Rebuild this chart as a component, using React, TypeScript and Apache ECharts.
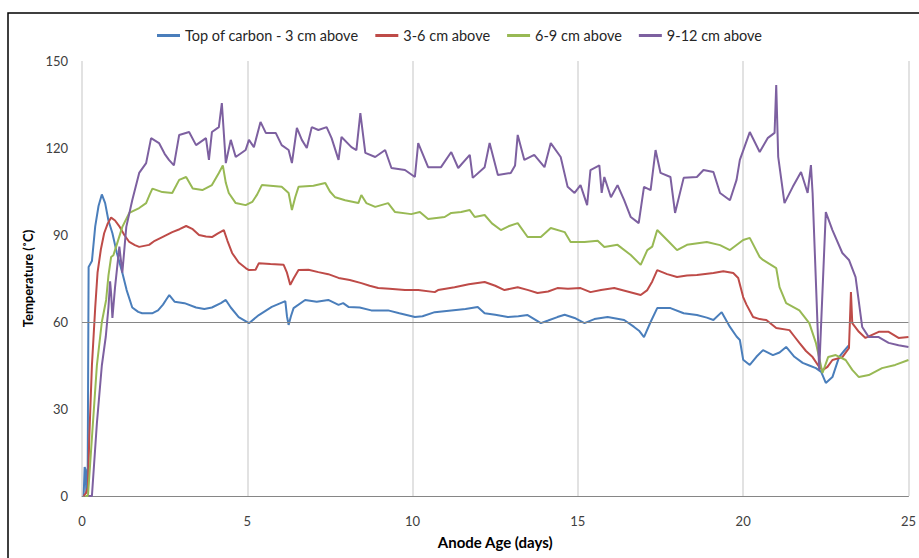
import React, { useEffect, useRef } from "react";
import * as echarts from "echarts";

const seriesNames = ["Top of carbon - 3 cm above", "3-6 cm above", "6-9 cm above", "9-12 cm above"];
const colors = ["#4a7ebb", "#be4b48", "#98b954", "#7d60a0"];
const xTicks = [0, 5, 10, 15, 20, 25];
const yTicks = [0, 30, 60, 90, 120, 150];
const refLine = 60;

const topCarbon: number[][] = [
  [0.05,0],[0.08,10],[0.11,9],[0.13,1],[0.17,2],[0.2,79],[0.3,81],[0.4,93],[0.5,100],[0.6,104],[0.7,101],[0.8,95],[0.92,90.6],[1.05,84],[1.22,77],[1.35,71],[1.52,65],[1.7,63.5],[1.82,63],[2.12,63],[2.3,64],[2.45,66],[2.54,67.6],[2.64,69.3],[2.8,67],[3.1,66.5],[3.45,65],[3.7,64.5],[3.93,65],[4.2,66.5],[4.35,67.6],[4.5,65],[4.74,61.7],[5.05,59.6],[5.35,62.4],[5.74,65.2],[6.15,67.2],[6.2,62],[6.25,59],[6.32,62],[6.4,64.8],[6.75,67.6],[7.1,67],[7.45,67.6],[7.76,65.9],[7.9,66.5],[8.06,65.2],[8.4,65],[8.75,64],[9.26,64],[9.6,63],[10.07,61.7],[10.3,62],[10.67,63.4],[11.17,64],[11.6,64.5],[11.97,65.2],[12.18,63],[12.5,62.5],[12.88,61.7],[13.2,62],[13.48,62.4],[13.88,59.6],[14.1,60.5],[14.38,61.7],[14.6,62.5],[14.9,61.4],[15.2,59.6],[15.5,61],[15.9,61.7],[16.4,60.7],[16.7,58.3],[16.85,57],[17.0,54.8],[17.2,60],[17.4,64.8],[17.8,64.8],[18.2,63],[18.6,62.4],[18.9,61.5],[19.1,60.7],[19.35,63.4],[19.6,58.3],[19.8,55],[19.9,53.8],[20.0,47],[20.2,45.2],[20.4,48],[20.6,50.3],[20.9,48.6],[21.1,49.5],[21.3,51.4],[21.55,48],[21.8,45.9],[22.0,45],[22.2,44.1],[22.36,42.8],[22.5,39],[22.7,41],[22.9,47.9],[23.05,50],[23.2,52]
];

const above3to6: number[][] = [
  [0.05,0],[0.12,1],[0.18,3],[0.22,20],[0.3,45],[0.4,65],[0.47,77],[0.57,85],[0.67,90.6],[0.78,94],[0.88,96],[1.0,95],[1.13,93],[1.28,90],[1.43,87.6],[1.6,86.5],[1.73,85.9],[2.03,86.6],[2.2,88],[2.43,89.3],[2.73,91],[2.95,92],[3.15,93.1],[3.35,92],[3.54,90],[3.75,89.5],[3.93,89.3],[4.1,90.5],[4.29,91.7],[4.4,88],[4.54,83.8],[4.74,80.5],[4.95,78.6],[5.05,77.9],[5.25,78],[5.35,80.3],[5.7,80],[6.1,79.7],[6.2,77],[6.3,72.8],[6.4,75],[6.55,77.9],[6.85,78],[7.15,77.2],[7.45,76.5],[7.76,75.2],[8.1,74.5],[8.45,73.4],[8.7,72.5],[8.96,71.7],[9.3,71.5],[9.77,71],[10.17,71],[10.67,70.3],[10.77,71],[11.0,71.5],[11.27,72],[11.7,73],[12.18,73.8],[12.5,72.5],[12.78,71],[13.18,72],[13.5,71],[13.78,70],[14.1,70.5],[14.38,71.7],[14.7,71.5],[15.08,71.7],[15.38,70.3],[15.7,71],[16.1,71.7],[16.5,70.5],[16.9,69.3],[17.1,71],[17.25,74],[17.4,77.9],[17.7,76.5],[18.0,75.5],[18.3,76],[18.6,76.2],[19.1,76.9],[19.4,77.5],[19.7,76.9],[19.85,75.2],[20.0,68.6],[20.1,66],[20.3,61.7],[20.5,61],[20.7,60.7],[21.0,57.9],[21.4,57.2],[21.55,55],[21.7,52.8],[21.9,50],[22.1,47.9],[22.3,44.5],[22.4,43.4],[22.55,44.5],[22.7,46.9],[23.0,47.9],[23.2,51],[23.26,70.3],[23.3,59.6],[23.5,56.6],[23.7,54.5],[24.1,56.6],[24.4,56.6],[24.7,54.5],[25.0,54.8]
];

const above6to9: number[][] = [
  [0.1,0],[0.18,0],[0.3,20],[0.45,45],[0.6,60],[0.73,67.6],[0.8,76],[0.88,82.4],[0.95,83],[1.03,85.9],[1.22,92.8],[1.43,97.6],[1.73,99.3],[1.94,101],[2.05,104],[2.13,106],[2.43,104.8],[2.73,104.5],[2.94,109],[3.15,110],[3.35,106],[3.64,105.5],[3.93,107.2],[4.14,111.4],[4.26,114],[4.35,108],[4.44,104.5],[4.65,101],[4.95,100.3],[5.15,101.4],[5.3,104],[5.44,107.2],[6.04,106.6],[6.25,104.5],[6.35,98.6],[6.45,103],[6.55,106.6],[7.0,107],[7.36,107.9],[7.5,105],[7.66,103],[7.96,102],[8.36,101],[8.45,103.8],[8.6,101],[8.87,99.7],[9.26,101],[9.47,97.9],[9.96,97.2],[10.22,97.9],[10.47,95.5],[10.97,96.2],[11.17,97.6],[11.47,97.9],[11.73,98.6],[11.88,96.2],[12.18,96.9],[12.4,94],[12.67,91.7],[12.9,93],[13.18,94.1],[13.48,89.3],[13.88,89.3],[14.18,92.4],[14.6,91],[14.78,87.6],[15.2,87.6],[15.6,88],[15.8,85.9],[16.2,86.6],[16.6,83.1],[16.9,79.7],[17.1,84.8],[17.25,86],[17.4,91.7],[17.7,88.3],[18.0,84.8],[18.3,86.6],[18.9,87.6],[19.3,86.5],[19.6,84.8],[20.0,88.3],[20.2,89],[20.5,82.4],[20.6,81.4],[21.0,78.6],[21.1,72],[21.3,66.5],[21.7,64],[22.0,59.6],[22.2,52.8],[22.4,42.4],[22.57,47.9],[22.8,48.6],[23.1,46.9],[23.3,43.5],[23.5,41],[23.8,41.7],[24.2,44.1],[24.6,45.2],[25.0,46.9]
];

const above9to12: number[][] = [
  [0.2,0],[0.3,0],[0.45,25],[0.6,45],[0.72,55],[0.8,65],[0.85,74],[0.88,70],[0.92,61.4],[1.0,72],[1.13,86],[1.22,77],[1.34,92.8],[1.52,102],[1.73,111.4],[1.94,114.8],[2.09,123.4],[2.33,121.7],[2.5,118],[2.63,115.9],[2.78,114],[2.94,124.5],[3.24,125.5],[3.45,121],[3.75,123.4],[3.84,115.9],[3.93,125.5],[4.14,127.2],[4.23,135.5],[4.35,114.8],[4.5,122.8],[4.65,116.9],[4.95,119.3],[5.05,122.8],[5.2,120.3],[5.4,129],[5.56,125.2],[5.86,125.2],[6.04,121],[6.25,119.3],[6.35,114.8],[6.5,126.9],[6.65,122.8],[6.8,120],[6.95,127.2],[7.15,126.2],[7.4,127.2],[7.55,123.4],[7.76,115.9],[7.85,123.8],[8.15,120.3],[8.3,119.3],[8.42,132],[8.57,118.3],[8.87,116.9],[9.17,119.3],[9.36,113.1],[9.77,112.4],[10.07,110],[10.17,121.7],[10.47,113.4],[10.86,113.4],[11.17,118.6],[11.38,113.1],[11.73,117.6],[11.82,109.7],[12.18,113.4],[12.33,121.7],[12.58,110.7],[12.97,111.4],[13.1,114],[13.18,124.5],[13.38,115.9],[13.68,117.6],[13.99,113.4],[14.18,121.7],[14.48,116.9],[14.69,106.6],[14.9,104.5],[15.08,107.2],[15.28,100.3],[15.38,112.4],[15.65,114],[15.72,104.5],[15.8,110],[16.0,103],[16.2,107.2],[16.4,102],[16.6,96.2],[16.84,94.1],[17.0,106.6],[17.2,105.5],[17.35,119.3],[17.5,111.4],[17.8,110],[17.94,97.6],[18.2,109.7],[18.6,110],[18.8,112.4],[19.1,111.7],[19.3,104.5],[19.6,102],[19.8,109],[19.9,115.9],[20.2,125.5],[20.5,118.6],[20.74,123.4],[20.95,125.2],[21.0,141.7],[21.06,116.9],[21.25,101],[21.5,106.6],[21.75,111.7],[21.95,104.5],[22.05,114.1],[22.1,104.5],[22.3,43.4],[22.5,97.9],[22.7,91.7],[23.0,83.8],[23.2,81.4],[23.4,75.5],[23.6,58.3],[23.8,54.8],[24.1,54.8],[24.4,52.8],[24.7,52],[25.0,51.4]
];

const allData = [topCarbon, above3to6, above6to9, above9to12];
const FONT = "Lato, 'Liberation Sans', sans-serif";

export default function App() {
  const ref = useRef<HTMLDivElement>(null);
  useEffect(() => {
    if (!ref.current) return;
    const chart = echarts.init(ref.current, undefined, { renderer: "svg" });
    chart.setOption({
      animation: false,
      backgroundColor: "#ffffff",
      textStyle: { fontFamily: FONT },
      graphic: [
        {
          type: "rect",
          shape: { x: 8, y: 13, width: 1000, height: 1000 },
          style: { fill: "none", stroke: "#000000", lineWidth: 1.5 },
          silent: true,
        },
      ],
      legend: {
        top: 23,
        left: "center",
        itemWidth: 23,
        itemHeight: 3,
        itemGap: 17,
        icon: "rect",
        textStyle: { fontSize: 14.5, color: "#262626", fontFamily: FONT },
        data: seriesNames,
      },
      grid: { left: 82, right: 8, top: 61, bottom: 62, containLabel: false },
      xAxis: {
        type: "value",
        min: xTicks[0],
        max: xTicks[xTicks.length - 1],
        interval: 5,
        name: "Anode Age (days)",
        nameLocation: "middle",
        nameGap: 38,
        nameTextStyle: { fontSize: 15, fontWeight: "bold", color: "#000", fontFamily: FONT },
        axisLine: { show: true, lineStyle: { color: "#868686", width: 1 } },
        axisTick: { show: false },
        axisLabel: { fontSize: 13, color: "#404040", margin: 18, fontFamily: FONT },
        splitLine: { show: true, lineStyle: { color: "#d9d9d9", width: 1.5 } },
      },
      yAxis: {
        type: "value",
        min: yTicks[0],
        max: yTicks[yTicks.length - 1],
        interval: 30,
        name: "Temperature (˚C)",
        nameLocation: "middle",
        nameGap: 46,
        nameTextStyle: { fontSize: 13, fontWeight: "bold", color: "#000", fontFamily: FONT },
        axisLine: { show: false },
        axisTick: { show: false },
        axisLabel: { fontSize: 13, color: "#404040", margin: 14, fontFamily: FONT },
        splitLine: { show: false },
      },
      series: allData.map((d, i) => ({
        name: seriesNames[i],
        type: "line",
        data: d,
        showSymbol: false,
        symbol: "none",
        lineStyle: { color: colors[i], width: 2 },
        itemStyle: { color: colors[i] },
        z: 3 + i,
        markLine:
          i === 0
            ? {
                silent: true,
                symbol: "none",
                label: { show: false },
                lineStyle: { color: "#868686", width: 1, type: "solid" },
                data: [{ yAxis: refLine }],
              }
            : undefined,
      })),
    });
    return () => chart.dispose();
  }, []);
  return (
    <div
      ref={ref}
      style={{ position: "fixed", left: 0, top: 0, width: 919, height: 558 }}
    />
  );
}
